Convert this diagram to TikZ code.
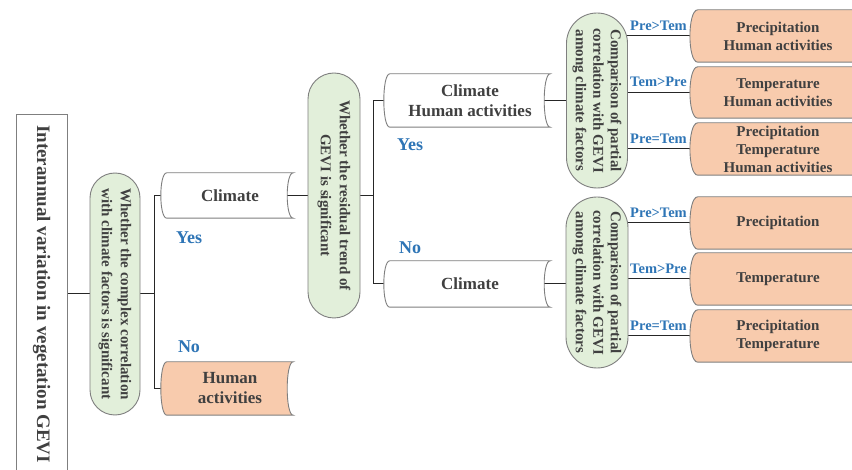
\documentclass[tikz,border=0pt]{standalone}
\usepackage{fontspec}
\setmainfont{Liberation Serif}
\usetikzlibrary{shapes.misc,backgrounds}
\definecolor{txt}{HTML}{404040}
\definecolor{lblue}{HTML}{2E75B6}
\definecolor{pgreen}{HTML}{E2EFDA}
\definecolor{orng}{HTML}{F8CBAD}
\definecolor{bord}{HTML}{7F7F7F}
\tikzset{
  conn/.style={draw=black!85, line width=1pt},
  mainbox/.style={rectangle, draw=bord, line width=0.9pt, fill=white, rotate=-90, text=txt,
    font=\bfseries\fontsize{19}{22}\selectfont, inner sep=0pt},
  pill/.style={rounded rectangle, draw=bord, line width=0.9pt, fill=pgreen, rotate=-90, text=txt,
    font=\bfseries\fontsize{15}{19}\selectfont, align=center, inner sep=0pt},
  pillc/.style={pill, font=\bfseries\fontsize{15}{17.5}\selectfont},
  sdtext/.style={rectangle, draw=none, text=txt, align=center, inner sep=0pt,
    font=\bfseries\fontsize{17}{20}\selectfont},
  rtext/.style={sdtext, minimum width=160pt, minimum height=52pt,
    font=\bfseries\fontsize{15}{18}\selectfont},
  yn/.style={text=lblue, font=\bfseries\fontsize{18}{20}\selectfont, inner sep=0pt},
  cmp/.style={text=lblue, font=\bfseries\fontsize{14.5}{16}\selectfont, inner sep=0pt},
  sdline/.style={draw=bord, line width=0.9pt},
}
% stored-data outline around a node: #1 node, #2 fill, #3 bulge control, #4 extension of right side
\newcommand\sdshape[4]{%
  \draw[sdline, fill=#2] (#1.north west) -- ([xshift=#4]#1.north east)
    .. controls +(-#3,0) and +(-#3,0) .. ([xshift=#4]#1.south east) -- (#1.south west)
    .. controls +(-#3,0) and +(-#3,0) .. (#1.north west) -- cycle;}
\begin{document}
\begin{tikzpicture}[x=1pt,y=1pt]
\useasboundingbox (0,0) rectangle (852,-470);

% main box
\node[mainbox, minimum width=360pt, minimum height=51pt] (main) at (41.5,-294) {Interannual variation in vegetation GEVI};

% decision pills
\node[pill, minimum width=242pt, minimum height=50pt] (p1) at (115,-294)
  {Whether the complex correlation\\with climate factors is significant};
\node[pill, minimum width=245pt, minimum height=52pt] (p2) at (334,-195.5)
  {Whether the residual trend of\\GEVI is significant};
\node[pillc, minimum width=175pt, minimum height=61pt] (p3) at (597,-100.5)
  {Comparison of partial\\correlation with GEVI\\among climate factors};
\node[pillc, minimum width=171pt, minimum height=62pt] (p4) at (597,-282.5)
  {Comparison of partial\\correlation with GEVI\\among climate factors};

% stored-data boxes (text)
\node[sdtext, minimum width=126pt, minimum height=45pt] (c1) at (230,-195.5) {Climate};
\node[sdtext, minimum width=126pt, minimum height=53pt] (h1) at (230,-388.5) {Human\\activities};
\node[sdtext, minimum width=160pt, minimum height=53pt] (c2) at (470,-100.5) {Climate\\Human activities};
\node[sdtext, minimum width=160pt, minimum height=46pt] (c3) at (470,-284) {Climate};

\node[rtext] (r1) at (778,-36) {Precipitation\\Human activities};
\node[rtext, minimum height=51pt] (r2) at (778,-92.5) {Temperature\\Human activities};
\node[rtext] (r3) at (778,-149) {Precipitation\\Temperature\\Human activities};
\node[rtext] (r4) at (778,-223) {Precipitation};
\node[rtext] (r5) at (778,-279) {Temperature};
\node[rtext] (r6) at (778,-336) {Precipitation\\Temperature};

% labels
\node[yn] (yes1) at (189,-238) {Yes};
\node[yn] (no1) at (189,-347) {No};
\node[yn] (yes2) at (410,-145) {Yes};
\node[yn] (no2) at (410,-248) {No};

\node[cmp] (l1) at (658.5,-25.5) {Pre>Tem};
\node[cmp] (l2) at (658.5,-82) {Tem>Pre};
\node[cmp] (l3) at (658.5,-138.5) {Pre=Tem};
\node[cmp] (l4) at (658.5,-212.5) {Pre>Tem};
\node[cmp] (l5) at (658.5,-268.5) {Tem>Pre};
\node[cmp] (l6) at (658.5,-325.5) {Pre=Tem};

\coordinate (t1) at (154,-294);
\coordinate (t2) at (373,-195.5);

\begin{scope}[on background layer]
  \fill[white] (0,0) rectangle (852,-470);
  \draw[conn] (main.center) -- (p1.center);
  \draw[conn] (p1.center) -- (t1);
  \draw[conn] (t1) |- (c1.center);
  \draw[conn] (t1) |- (h1.center);
  \draw[conn] (c1.center) -- (p2.center);
  \draw[conn] (p2.center) -- (t2);
  \draw[conn] (t2) |- (c2.center);
  \draw[conn] (t2) |- (c3.center);
  \draw[conn] (c2.center) -- (c2.center -| p3.center);
  \draw[conn] (c3.center) -- (c3.center -| p4.center);
  \foreach \r in {r1,r2,r3} \draw[conn] (p3.center |- \r.center) -- (\r.center);
  \foreach \r in {r4,r5,r6} \draw[conn] (p4.center |- \r.center) -- (\r.center);
  \sdshape{c1}{white}{8}{0pt}
  \sdshape{h1}{orng}{8}{0pt}
  \sdshape{c2}{white}{8}{0pt}
  \sdshape{c3}{white}{8}{0pt}
  \foreach \r in {r1,r2,r3,r4,r5,r6} {\sdshape{\r}{orng}{10.5}{30pt}}
\end{scope}
\end{tikzpicture}
\end{document}
